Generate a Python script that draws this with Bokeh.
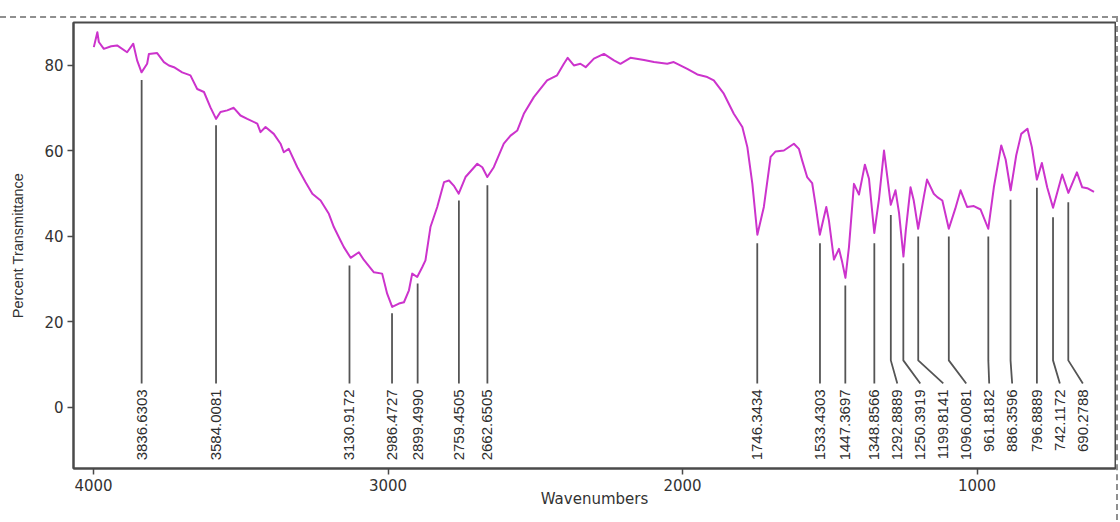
import math
from bokeh.plotting import figure
from bokeh.models import Range1d, FixedTicker, ColumnDataSource
from bokeh.core.properties import value
from bokeh.embed import file_html
from bokeh.resources import INLINE

# ---- data ----
wavenumber = [3999, 3987, 3982, 3965, 3940, 3920, 3886, 3865, 3852, 3837, 3818, 3812,
              3784, 3761, 3744, 3727, 3699, 3671, 3648, 3625, 3603, 3584, 3569, 3546,
              3524, 3501, 3478, 3444, 3433, 3416, 3388, 3365, 3354, 3337, 3308, 3280,
              3257, 3229, 3201, 3184, 3161, 3150, 3127, 3099, 3082, 3048, 3020, 3003,
              2986, 2963, 2946, 2929, 2918, 2901, 2884, 2873, 2856, 2833, 2810, 2793,
              2777, 2760, 2737, 2697, 2680, 2663, 2641, 2607, 2584, 2561, 2539, 2505,
              2460, 2426, 2403, 2390, 2369, 2347, 2329, 2301, 2267, 2233, 2211, 2177,
              2131, 2097, 2052, 2030, 1984, 1950, 1916, 1894, 1860, 1826, 1797, 1780,
              1763, 1746, 1724, 1701, 1684, 1656, 1622, 1605, 1594, 1577, 1560, 1548,
              1534, 1512, 1503, 1486, 1469, 1458, 1447, 1435, 1418, 1401, 1381, 1367,
              1349, 1333, 1316, 1299, 1293, 1277, 1265, 1250, 1242, 1226, 1215, 1200,
              1181, 1170, 1147, 1135, 1118, 1096, 1074, 1056, 1034, 1011, 988, 962,
              943, 918, 903, 886, 867, 850, 829, 814, 797, 780, 762, 742, 711, 690,
              661, 643, 626, 603]
transmittance = [84.3, 87.8, 85.5, 83.9, 84.5, 84.7, 83.1, 85.1, 81.2, 78.4, 80.4, 82.7,
                 82.9, 80.8, 80.0, 79.6, 78.4, 77.7, 74.5, 73.8, 70.2, 67.5, 69.1, 69.5,
                 70.1, 68.3, 67.5, 66.4, 64.4, 65.6, 64.0, 61.7, 59.7, 60.5, 56.2, 52.7,
                 50.0, 48.4, 45.3, 42.2, 39.0, 37.5, 35.0, 36.3, 34.5, 31.6, 31.3, 26.6,
                 23.5, 24.3, 24.6, 27.4, 31.3, 30.5, 32.8, 34.4, 42.2, 46.9, 52.7, 53.1,
                 51.9, 50.0, 53.9, 57.0, 56.2, 53.9, 56.2, 61.7, 63.6, 64.8, 68.7, 72.6,
                 76.5, 77.7, 80.4, 81.8, 80.0, 80.4, 79.6, 81.6, 82.7, 81.2, 80.4, 81.8,
                 81.3, 80.8, 80.4, 80.8, 79.2, 77.9, 77.3, 76.5, 73.4, 68.7, 65.6, 60.9,
                 52.3, 40.4, 46.9, 58.6, 59.9, 60.1, 61.7, 60.5, 57.8, 53.9, 52.5, 47.2,
                 40.4, 46.9, 43.7, 34.6, 37.1, 34.0, 30.3, 37.5, 52.3, 49.8, 56.8, 53.5,
                 40.8, 48.8, 60.1, 50.8, 47.4, 50.8, 45.5, 35.3, 41.4, 51.5, 48.4, 41.8,
                 49.2, 53.3, 50.0, 49.2, 48.4, 41.8, 46.5, 50.8, 46.9, 47.1, 46.3, 41.8,
                 51.5, 61.3, 58.0, 50.8, 59.0, 64.0, 65.2, 60.9, 53.3, 57.2, 51.5, 46.7,
                 54.5, 50.2, 55.0, 51.5, 51.3, 50.4]

peak_wavenumbers = [3836.6303, 3584.0081, 3130.9172, 2986.4727, 2899.4990, 2759.4505,
                    2662.6505, 1746.3434, 1533.4303, 1447.3697, 1348.8566, 1292.8889,
                    1250.3919, 1199.8141, 1096.0081, 961.8182, 886.3596, 796.8889,
                    742.1172, 690.2788]
peak_transmittance = [78.4, 67.8, 35.0, 23.8, 30.8, 50.2, 53.8, 40.2, 40.2, 30.3, 40.2,
                      46.8, 35.5, 41.8, 41.8, 41.8, 50.4, 53.2, 46.3, 49.8]
peak_labels = [f"{w:.4f}" for w in peak_wavenumbers]

x_ticks = [4000, 3000, 2000, 1000]
y_ticks = [0, 20, 40, 60, 80]

# ---- peak label layout (push crowded labels to lower wavenumbers) ----
min_gap = 78
label_x = []
prev = None
for w in peak_wavenumbers:
    lx = w if prev is None else min(w, prev - min_gap)
    label_x.append(lx)
    prev = lx

marker_offset = 1.8
kink_y = 11.0
line_end_y = 5.6
label_y = 4.2
xs = [[w, w, lx] for w, lx in zip(peak_wavenumbers, label_x)]
ys = [[t - marker_offset, kink_y, line_end_y] for t in peak_transmittance]

p = figure(width=1118, height=504,
           x_range=Range1d(4068, 530), y_range=Range1d(-14.3, 90.06),
           output_backend="svg", toolbar_location=None,
           min_border_left=73, min_border_right=3, min_border_top=4, min_border_bottom=54)
p.styles = {"margin-top": "16px",
            "border-top": "2px dashed #8f8f8f",
            "border-right": "2px dashed #8f8f8f"}

p.grid.visible = False
p.background_fill_color = "white"
p.border_fill_color = "white"
p.outline_line_color = "#4a4a4a"
p.outline_line_width = 2

frame_col = "#4a4a4a"
for ax in (p.xaxis[0], p.yaxis[0]):
    ax.axis_line_color = frame_col
    ax.axis_line_width = 2
    ax.major_tick_line_color = frame_col
    ax.major_tick_line_width = 1.5
    ax.major_tick_out = 6
    ax.major_tick_in = 0
    ax.minor_tick_line_color = None
    ax.major_label_text_color = "#333333"
    ax.major_label_text_font = "DejaVu Sans"
    ax.major_label_text_font_size = "15px"
    ax.major_label_standoff = 4
    ax.axis_label_text_color = "#333333"
    ax.axis_label_text_font_style = "normal"

p.xaxis[0].ticker = FixedTicker(ticks=x_ticks)
p.yaxis[0].ticker = FixedTicker(ticks=y_ticks)
p.xaxis[0].axis_label = "Wavenumbers"
p.xaxis[0].axis_label_text_font = "DejaVu Sans"
p.xaxis[0].axis_label_text_font_size = "15px"
p.xaxis[0].axis_label_standoff = -4
p.yaxis[0].axis_label = "Percent Transmittance"
p.yaxis[0].axis_label_text_font = "Liberation Sans"
p.yaxis[0].axis_label_text_font_size = "14.5px"
p.yaxis[0].axis_label_standoff = 15

spec = ColumnDataSource(dict(x=wavenumber, y=transmittance))
p.line("x", "y", source=spec, line_color="#cc33cc", line_width=2, line_join="round")

p.multi_line(xs=xs, ys=ys, line_color="#555555", line_width=1.8)

lab = ColumnDataSource(dict(x=label_x, y=[label_y] * len(label_x), text=peak_labels))
p.text("x", "y", text="text", source=lab, angle=math.pi / 2,
       text_align="right", text_baseline="middle",
       text_font=value("Liberation Sans"), text_font_size="15px", text_color="#2e2e2e")

open("out.html", "w").write(file_html(p, INLINE))
